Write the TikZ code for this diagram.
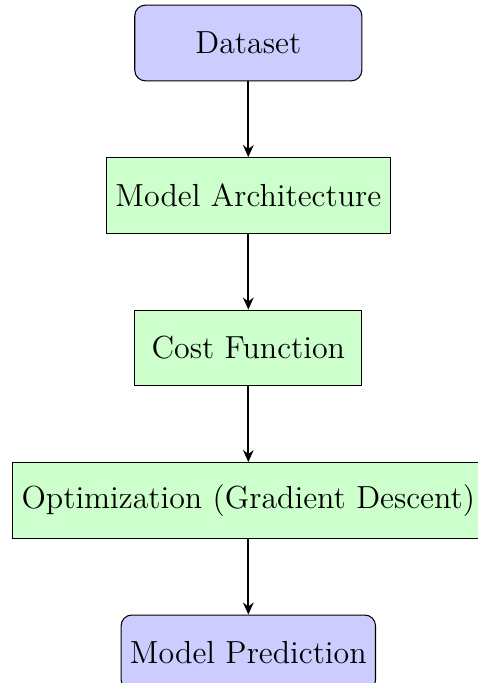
\documentclass[tikz,border=0pt]{standalone}
\usetikzlibrary{positioning, arrows.meta}
\begin{document}
\begin{tikzpicture}[
  io/.style={rectangle, rounded corners, draw, fill=blue!20, minimum width=3cm, minimum height=1cm, font=\large},
  proc/.style={rectangle, draw, fill=green!20, minimum width=3cm, minimum height=1cm, font=\large},
  arr/.style={thick, -{Stealth[length=4.5pt, width=4pt]}},
  node distance=1cm
]
\useasboundingbox (-3.28,0.568) rectangle (3.034,-8.454);

% --- stages, top to bottom ---
\node[io] (data) at (0,0) {Dataset};
\node[proc, below=of data] (arch) {Model Architecture};
\node[proc, below=of arch] (cost) {Cost Function};
\node[proc, below=of cost] (opt) {Optimization (Gradient Descent)};
\node[io, below=of opt] (pred) {Model Prediction};

% --- flow ---
\draw[arr] (data) -- (arch);
\draw[arr] (arch) -- (cost);
\draw[arr] (cost) -- (opt);
\draw[arr] (opt) -- (pred);

\end{tikzpicture}
\end{document}
